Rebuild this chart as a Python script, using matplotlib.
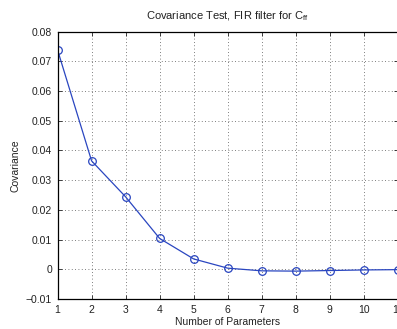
import numpy as np
import matplotlib.pyplot as plt

plt.rcParams['font.family'] = ['Liberation Sans', 'DejaVu Sans']
plt.rcParams['mathtext.fontset'] = 'custom'
plt.rcParams['mathtext.rm'] = 'Liberation Sans'

# data
n_params = [1, 2, 3, 4, 5, 6, 7, 8, 9, 10, 11]
covarianza = [0.0738, 0.0365, 0.0244, 0.0104, 0.0035, 0.0004,
              -0.0005, -0.0006, -0.0004, -0.0002, -0.0001]
xticks = list(range(1, 12))
yticks = [-0.01, 0, 0.01, 0.02, 0.03, 0.04, 0.05, 0.06, 0.07, 0.08]

fig = plt.figure(figsize=(3.97, 3.29), dpi=100)
ax = fig.add_axes([0.145, 0.091, 0.857, 0.813])

ax.plot(n_params, covarianza, color='#2a46c0', lw=0.9, marker='o',
        markersize=5.5, markerfacecolor='none', markeredgewidth=0.9)

ax.set_xlim(1, 11)
ax.set_ylim(-0.01, 0.08)
ax.set_xticks(xticks)
ax.set_yticks(yticks)
ax.set_yticklabels(['\u22120.01', '0', '0.01', '0.02', '0.03', '0.04',
                    '0.05', '0.06', '0.07', '0.08'])
ax.grid(True, linestyle=(0, (1, 3)), color='#555555', lw=0.6)
ax.tick_params(direction='in', top=True, right=True, labelsize=7.5,
               length=3, width=0.6, colors='#222222', pad=4)
for s in ax.spines.values():
    s.set_linewidth(0.9)

ax.set_title('Covariance Test, FIR filter for C$_{\\mathrm{ff}}$',
             fontsize=8, color='#222222', pad=9)
ax.set_xlabel('Number of Parameters', fontsize=7.5, color='#222222', labelpad=2)
ax.set_ylabel('Covariance', fontsize=7.5, color='#222222', labelpad=4)

fig.savefig('out.png', dpi=100)
